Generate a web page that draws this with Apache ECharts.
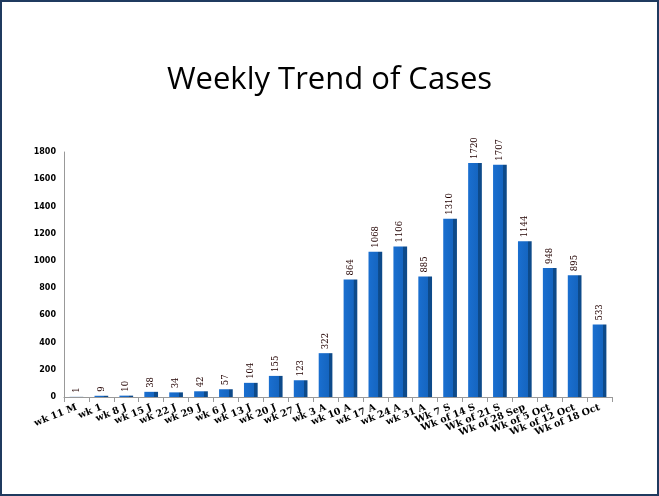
<!DOCTYPE html>
<html><head><meta charset="utf-8">
<script src="https://cdn.jsdelivr.net/npm/echarts@6/dist/echarts.min.js"></script>
<style>
html,body{margin:0;padding:0;background:#fff}
#c{position:absolute;left:0;top:0;width:655px;height:492px;border:2px solid #1f3a5f}
</style></head>
<body><div id="c"></div>
<script>
var categories = ['wk 11 M','wk 1','wk 8 J','wk 15 J','wk 22 J','wk 29 J','wk 6 J','wk 13 J','wk 20 J','wk 27 J','wk 3 A','wk 10 A','wk 17 A','wk 24 A','wk 31 A','Wk 7 S','Wk of 14 S','Wk of 21 S','Wk of 28 Sep','Wk of 5 Oct','Wk of 12 Oct','Wk of 18 Oct'];
var cases = [1,9,10,38,34,42,57,104,155,123,322,864,1068,1106,885,1310,1720,1707,1144,948,895,533];

var chart = echarts.init(document.getElementById('c'));
chart.setOption({
    title: {text: 'Weekly Trend of Cases', left: 'center', top: 58,
        textStyle: {fontFamily: 'Open Sans', fontWeight: 'normal', fontSize: 31, color: '#000'}},
    grid: {left: 62, right: 45, top: 150, bottom: 97},
    xAxis: {
        type: 'category', data: categories,
        axisLine: {lineStyle: {color: '#999'}},
        axisTick: {show: true, lineStyle: {color: '#999'}},
        axisLabel: {interval: 0, rotate: 22, fontFamily: 'DejaVu Serif', fontWeight: 'bold', fontSize: 9.5, color: '#000', margin: 10}
    },
    yAxis: {
        type: 'value', min: 0, max: 1800, interval: 200,
        splitLine: {show: false},
        axisLine: {show: true, lineStyle: {color: '#999'}},
        axisTick: {show: false},
        axisLabel: {formatter: function (v) { return String(v); }, fontFamily: 'DejaVu Sans', fontWeight: 'bold', fontSize: 8, color: '#000'}
    },
    series: [{
        type: 'bar', data: cases, barWidth: '55%',
        itemStyle: {color: new echarts.graphic.LinearGradient(0,0,1,0,[
            {offset: 0, color: '#1a6fd0'}, {offset: 0.72, color: '#1565c0'}, {offset: 0.73, color: '#0d4a8a'}, {offset: 1, color: '#0d4a8a'}])},
        label: {show: true, position: 'top', rotate: 90, align: 'left', verticalAlign: 'middle', distance: 4,
            fontFamily: 'DejaVu Serif', fontSize: 8.5, color: '#200'}
    }]
});
</script></body></html>
